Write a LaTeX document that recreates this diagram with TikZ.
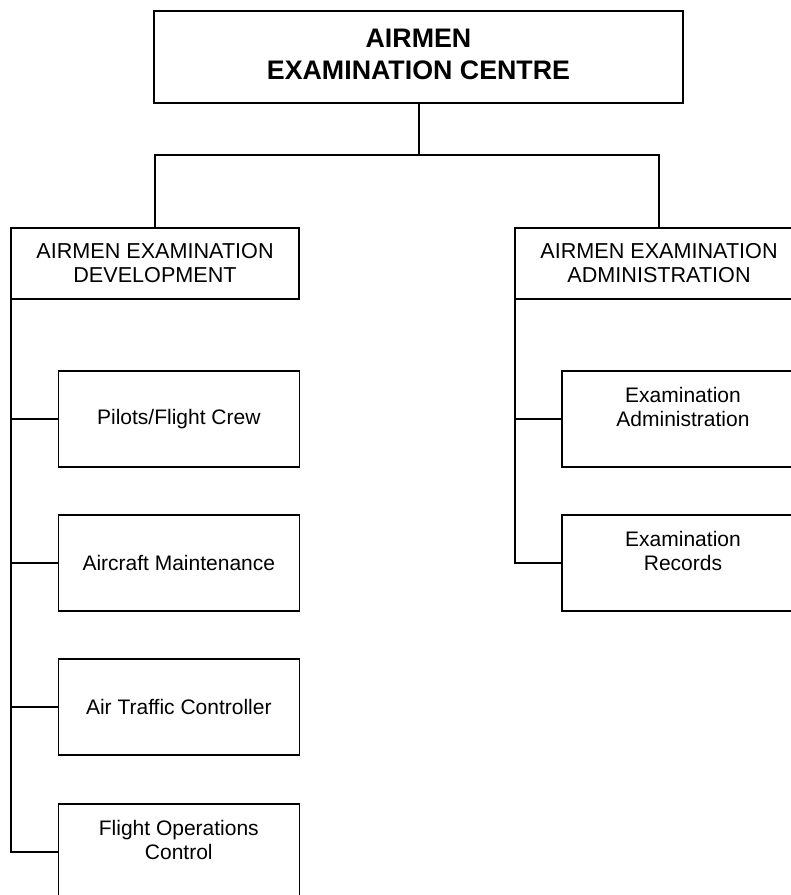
\documentclass[tikz,border=0pt]{standalone}
\usepackage{fontspec}
\setmainfont{Liberation Sans}
\begin{document}
\begin{tikzpicture}[x=1pt,y=-1pt,
  box/.style={draw, line width=1.4pt, rectangle, outer sep=0pt, inner sep=0pt, align=center, font=\fontsize{21}{24}\selectfont},
  conn/.style={line width=2pt},
  lbl/.style={align=center, inner sep=0pt, font=\fontsize{21}{24}\selectfont}]
\useasboundingbox (0,0) rectangle (791,895);
\clip (0,0) rectangle (791,895);
% top
\node[box, minimum width=529pt, minimum height=92pt, line width=1.8pt] (top) at (418.5,57) {};
\node[lbl, font=\fontsize{26.8}{32}\selectfont\bfseries] (topT) at (418.5,54) {AIRMEN\\EXAMINATION CENTRE};
% level 2
\node[box, minimum width=288pt, minimum height=71pt, font=\fontsize{21.6}{24}\selectfont] (dev) at (155,263.5) {AIRMEN EXAMINATION\\DEVELOPMENT};
\node[box, minimum width=288pt, minimum height=71pt, font=\fontsize{21.6}{24}\selectfont] (adm) at (659,263.5) {AIRMEN EXAMINATION\\ADMINISTRATION};
% left children
\node[box, minimum width=241pt, minimum height=96pt] (pilots) at (178.8,419) {Pilots/Flight Crew};
\node[box, minimum width=241pt, minimum height=96pt] (aircraft) at (178.8,563) {Aircraft Maintenance};
\node[box, minimum width=241pt, minimum height=96pt] (atc) at (178.8,707) {Air Traffic Controller};
\node[box, minimum width=241pt, minimum height=96pt] (foc) at (178.8,852) {};
\node[lbl] (focT) at (178.8,840) {Flight Operations\\Control};
% right children
\node[box, minimum width=242pt, minimum height=96pt] (exadm) at (683,419) {};
\node[lbl] (exadmT) at (683,407) {Examination\\Administration};
\node[box, minimum width=242pt, minimum height=96pt] (exrec) at (683,563) {};
\node[lbl] (exrecT) at (683,551) {Examination\\Records};
% connectors
\coordinate (bar) at (418.5,155);
\draw[conn] (top.south) -- (bar);
\draw[conn] (dev.north) |- (bar) -| (adm.north);
\draw[conn] (dev.south west) |- (pilots.west);
\draw[conn] (dev.south west) |- (aircraft.west);
\draw[conn] (dev.south west) |- (atc.west);
\draw[conn] (dev.south west) |- (foc.west);
\draw[conn] (adm.south west) |- (exadm.west);
\draw[conn] (adm.south west) |- (exrec.west);
\end{tikzpicture}
\end{document}
